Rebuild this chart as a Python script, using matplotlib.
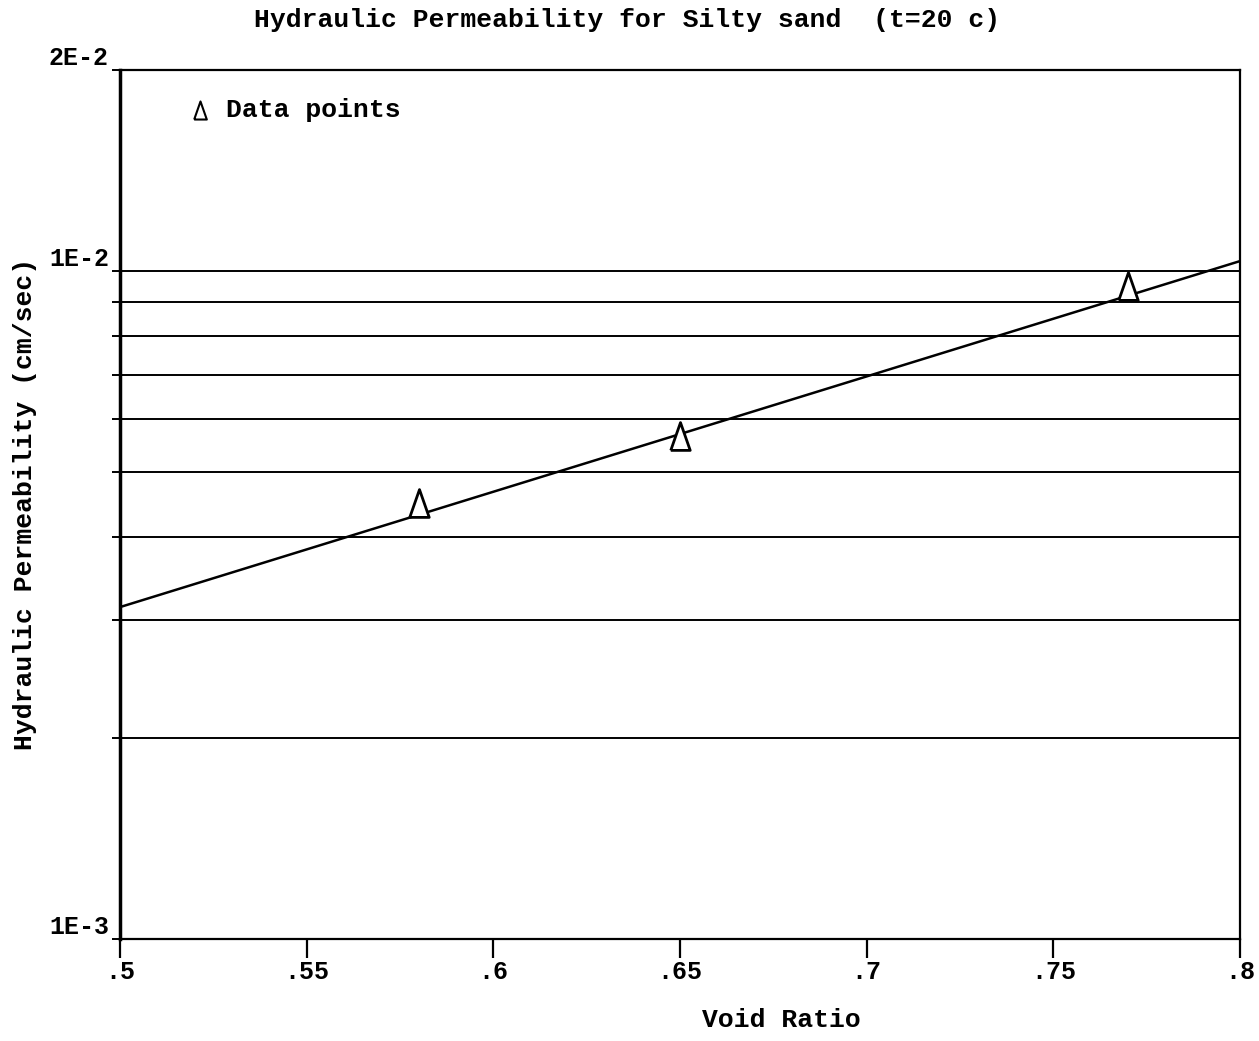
import numpy as np
import matplotlib
matplotlib.use("Agg")
import matplotlib.pyplot as plt
from matplotlib.ticker import FixedLocator, NullFormatter

# void ratio vs. permeability, silty sand at 20 C
void_ratio = [0.58, 0.65, 0.77]
perm = [4.50e-3, 5.67e-3, 9.5e-3]

# fitted line end points (log-linear)
fit_e = [0.50, 0.80]
fit_k = [3.14e-3, 1.035e-2]

grid_k = [2e-3, 3e-3, 4e-3, 5e-3, 6e-3, 7e-3, 8e-3, 9e-3, 1e-2]
xticks = [0.5, 0.55, 0.6, 0.65, 0.7, 0.75, 0.8]
xlabels = [".5", ".55", ".6", ".65", ".7", ".75", ".8"]
yticks = [1e-3, 1e-2, 2e-2]
ylabels = ["1E-3", "1E-2", "2E-2"]

plt.rcParams['font.family'] = ['Liberation Mono', 'DejaVu Sans Mono']
plt.rcParams['font.weight'] = 'bold'

fig = plt.figure(figsize=(12.59, 10.41), dpi=100)
ax = fig.add_axes([120/1259, 1 - 939/1041, 1120/1259, 869/1041])

ax.set_yscale('log')
ax.set_xlim(0.5, 0.8)
ax.set_ylim(1e-3, 2e-2)

for g in grid_k:
	ax.axhline(g, color='black', lw=1.4, zorder=1)

ax.plot(fit_e, fit_k, color='black', lw=1.8, zorder=2)
tri = [(-0.7, -1), (0, 1), (0.7, -1), (-0.7, -1)]
ax.plot(void_ratio, perm, ls='none', marker=tri, ms=20, mfc='white', mec='black', mew=2, zorder=3)

for s in ax.spines.values():
	s.set_linewidth(1.6)
ax.spines['left'].set_linewidth(2.5)

ax.xaxis.set_major_locator(FixedLocator(xticks))
ax.set_xticklabels(xlabels, fontsize=18, fontweight='bold')
ax.tick_params(axis='x', direction='out', length=14, width=1.6, pad=1)

ax.yaxis.set_major_locator(FixedLocator(yticks))
ax.set_yticklabels(ylabels, fontsize=18, fontweight='bold', va='bottom')
ax.yaxis.set_minor_locator(FixedLocator(grid_k[:-1]))
ax.yaxis.set_minor_formatter(NullFormatter())
ax.tick_params(axis='y', which='major', direction='out', length=6, width=1.4, pad=2)
ax.tick_params(axis='y', which='minor', direction='out', length=6, width=1.4)

# legend entry
ax.plot([0.5214], [1.74e-2], ls='none', marker=tri, ms=13, mfc='white', mec='black', mew=1.5)
ax.text(0.5284, 1.74e-2, "Data points", fontsize=19, va='center', ha='left')

fig.text(627/1259, 1 - 20/1041, "Hydraulic Permeability for Silty sand  (t=20 c)",
	fontsize=19, ha='center', va='center')
fig.text(781/1259, 1 - 1020/1041, "Void Ratio", fontsize=19, ha='center', va='center')
fig.text(25/1259, 1 - 504/1041, "Hydraulic Permeability (cm/sec)", fontsize=19,
	ha='center', va='center', rotation=90)

fig.savefig("out.png", dpi=100)
